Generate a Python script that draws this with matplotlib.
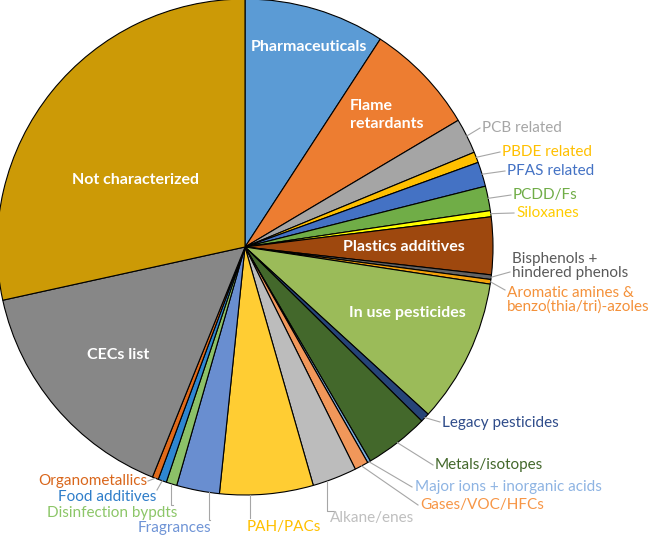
import numpy as np
import matplotlib.pyplot as plt

plt.rcParams['font.family'] = ['Lato', 'DejaVu Sans']

# share of features (percent), clockwise from 12 o'clock
labels = ["Pharmaceuticals", "Flame\nretardants", "PCB related", "PBDE related",
          "PFAS related", "PCDD/Fs", "Siloxanes", "Plastics additives",
          "Bisphenols +\nhindered phenols", "Aromatic amines &\nbenzo(thia/tri)-azoles",
          "In use pesticides", "Legacy pesticides", "Metals/isotopes",
          "Major ions + inorganic acids", "Gases/VOC/HFCs", "Alkane/enes", "PAH/PACs",
          "Fragrances", "Disinfection bypdts", "Food additives", "Organometallics",
          "CECs list", "Not characterized"]
values = [9.2, 7.3, 2.3, 0.7, 1.6, 1.6, 0.4, 3.75, 0.3, 0.3, 9.4, 0.6, 4.2,
          0.2, 0.9, 2.9, 6.1, 2.8, 0.7, 0.55, 0.4, 15.5, 28.5]
colors = ["#5B9BD5", "#ED7D31", "#A5A5A5", "#FFC000", "#4472C4", "#70AD47", "#FFFF00",
          "#9E480E", "#636363", "#F4A20B", "#9BBB59", "#264478", "#43682B", "#7CAFDD",
          "#F1975A", "#BCBCBC", "#FFCD33", "#698ED0", "#8CC168", "#2E86D1", "#E06A1B",
          "#878787", "#CC9A06"]

W, H = 661, 538
CX, CY, R = 245, H - 247, 248

fig = plt.figure(figsize=(6.61, 5.38), dpi=100)
ax = fig.add_axes([0, 0, 1, 1])
wedges, _ = ax.pie(values, colors=colors, startangle=90, counterclock=False,
                   radius=R, center=(CX, CY),
                   wedgeprops=dict(edgecolor="black", linewidth=0.8))
ax.set_xlim(0, W)
ax.set_ylim(0, H)
ax.set_aspect("equal")
ax.axis("off")

# labels inside the slices: index -> (x, y from top, ha)
inside = {0: (309, 47, "center"), 1: (350, 115, "left"), 7: (404, 247, "center"),
          10: (407, 313, "center"), 21: (118, 355, "center"), 22: (136, 180, "center")}
for i, (x, y, ha) in inside.items():
    ax.text(x, H - y, labels[i], color="white", fontsize=11.5, fontweight="bold",
            ha=ha, va="center", linespacing=1.3)

# labels outside: index -> (text x, text y from top, ha, text colour,
#                            anchor fraction in slice, leader end x, y, vertical leader)
outside = {
    2: (482, 128, "left", "#A6A6A6", 0.5, 480, 128, False),
    3: (502, 152, "left", "#FFC000", 0.5, 500, 152, False),
    4: (507, 171, "left", "#4472C4", 0.5, 505, 171, False),
    5: (513, 195, "left", "#70AD47", 0.5, 511, 195, False),
    6: (516, 213, "left", "#FFCC00", 0.5, 514, 213, False),
    8: (512, 266, "left", "#595959", 0.5, 510, 272, False),
    9: (507, 300, "left", "#F4913A", 0.5, 505, 290, False),
    11: (442, 423, "left", "#2F4C8A", 0.5, 440, 422, False),
    12: (435, 465, "left", "#43682B", 0.5, 433, 465, False),
    13: (415, 487, "left", "#8EB4E3", 0.5, 412, 487, False),
    14: (420, 505, "left", "#F79646", 0.5, 418, 505, False),
    15: (330, 518, "left", "#BFBFBF", 0.69, 334, 511, True),
    16: (247, 527, "left", "#FFC000", 0.68, 250, 518, True),
    17: (211, 528, "right", "#6F94D6", 0.23, 210, 520, True),
    18: (177, 513, "right", "#8CC668", 0.5, 173, 505, True),
    19: (156, 497, "right", "#2E7DC9", 0.5, 157, 490, False),
    20: (147, 481, "right", "#D9661B", 0.5, 148, 481, False),
}
for i, (tx, ty, ha, tc, frac, lx, ly, vert) in outside.items():
    w = wedges[i]
    th = np.radians(w.theta2 - frac * (w.theta2 - w.theta1))
    ex, ey = CX + R * np.cos(th), CY + R * np.sin(th)
    if vert:
        xs, ys = [ex, ex, lx], [ey, H - ly, H - ly]
    else:
        xs, ys = [ex, lx], [ey, H - ly]
    ax.plot(xs, ys, color="#A6A6A6", linewidth=0.8, clip_on=False)
    ax.text(tx, H - ty, labels[i], color=tc, fontsize=11, ha=ha, va="center",
            linespacing=1.0)

fig.savefig("out.png", dpi=100)
